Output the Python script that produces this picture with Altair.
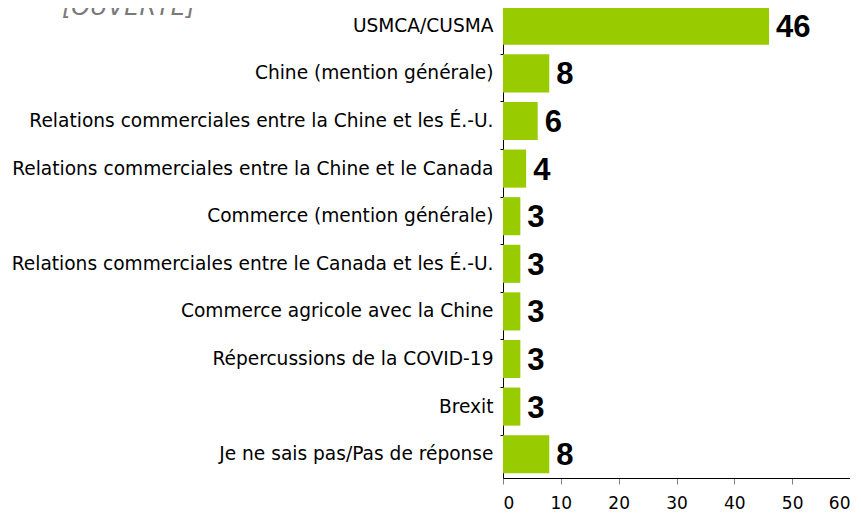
import altair as alt
import pandas as pd

categories = [
    "USMCA/CUSMA",
    "Chine (mention générale)",
    "Relations commerciales entre la Chine et les É.-U.",
    "Relations commerciales entre la Chine et le Canada",
    "Commerce (mention générale)",
    "Relations commerciales entre le Canada et les É.-U.",
    "Commerce agricole avec la Chine",
    "Répercussions de la COVID-19",
    "Brexit",
    "Je ne sais pas/Pas de réponse",
]
values = [46, 8, 6, 4, 3, 3, 3, 3, 3, 8]
x_ticks = [0, 10, 20, 30, 40, 50, 60]

df = pd.DataFrame({"cat": categories, "val": values})

y_enc = alt.Y(
    "cat:N",
    sort=categories,
    title=None,
    scale=alt.Scale(paddingInner=0.2, paddingOuter=0.1),
    axis=alt.Axis(
        labelFont="DejaVu Sans",
        labelFontSize=18.6,
        labelColor="#000000",
        labelPadding=7,
        labelLimit=600,
        tickSize=3,
        tickColor="#000000",
        domainColor="#000000",
        bandPosition=0,
    ),
)
x_enc = alt.X(
    "val:Q",
    title=None,
    scale=alt.Scale(domain=[0, 60], nice=False),
    axis=alt.Axis(
        values=x_ticks,
        labelFont="DejaVu Sans",
        labelFontSize=17,
        labelColor="#000000",
        labelPadding=11,
        tickSize=6,
        tickColor="#808080",
        domainColor="#000000",
        grid=False,
    ),
)

bars = alt.Chart(df).mark_bar(color="#99CC00").encode(x=x_enc, y=y_enc)
labels = alt.Chart(df).mark_text(
    align="left", baseline="middle", dx=7, dy=2,
    font="Liberation Sans", fontSize=31, fontWeight="bold", color="#000000",
).encode(x="val:Q", y=alt.Y("cat:N", sort=categories), text="val:Q")

chart = (
    alt.layer(bars, labels)
    .properties(
        width=347,
        height=476,
        autosize=alt.AutoSizeParams(type="none"),
        padding={"left": 495, "top": -6, "right": 0, "bottom": 40},
        title=alt.TitleParams(
            "[OUVERTE]",
            anchor="start",
            frame="group",
            dx=-441,
            dy=41,
            baseline="alphabetic",
            font="DejaVu Sans",
            fontStyle="italic",
            fontWeight="normal",
            fontSize=24,
            color="#7a7a7a",
        ),
    )
    .configure_view(stroke=None)
)

chart.save("out.html", embed_options={"renderer": "svg", "actions": False})
